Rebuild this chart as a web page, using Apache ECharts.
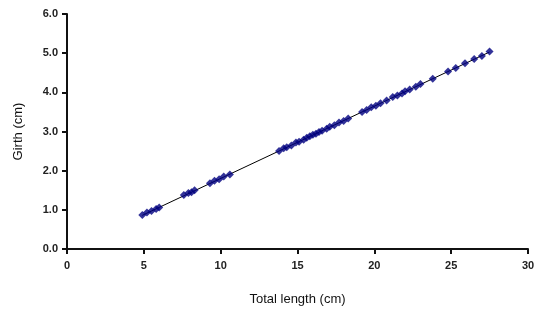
<!DOCTYPE html>
<html><head><meta charset="utf-8">
<script src="https://cdn.jsdelivr.net/npm/echarts@6/dist/echarts.min.js"></script>
<style>html,body{margin:0;padding:0;background:#fff}#c{width:539px;height:314px}</style>
</head><body><div id="c"></div>
<script>
const totalLength = [4.9,5.2,5.5,5.8,6.0,7.6,7.9,8.1,8.3,9.3,9.6,9.9,10.2,10.6,13.8,14.1,14.3,14.6,14.9,15.1,15.4,15.6,15.8,16.0,16.2,16.4,16.6,16.9,17.1,17.4,17.7,18.0,18.3,19.2,19.5,19.8,20.1,20.4,20.8,21.2,21.5,21.8,22.0,22.3,22.7,23.0,23.8,24.8,25.3,25.9,26.5,27.0,27.5];
const girth = [0.87,0.93,0.97,1.02,1.06,1.38,1.43,1.45,1.50,1.68,1.74,1.78,1.85,1.90,2.50,2.57,2.60,2.64,2.72,2.74,2.79,2.84,2.88,2.92,2.94,2.99,3.02,3.07,3.12,3.16,3.23,3.27,3.33,3.50,3.55,3.62,3.66,3.72,3.79,3.88,3.92,3.97,4.03,4.07,4.14,4.21,4.35,4.53,4.62,4.74,4.85,4.93,5.04];
const trendX = [4.9, 27.5];
const trendY = [0.86, 5.03];
const xTicks = [0,5,10,15,20,25,30];
const yTicks = [0,1,2,3,4,5,6];

const pts = totalLength.map((v,i)=>[v,girth[i]]);
const trend = trendX.map((v,i)=>[v,trendY[i]]);
const chart = echarts.init(document.getElementById('c'), null, {renderer:'canvas'});
const lblFont = {fontFamily:'Liberation Sans, Arial', fontSize:11, fontWeight:'bold', color:'#222'};
const nameFont = {fontFamily:'Liberation Sans, Arial',fontSize:13,color:'#111'};
chart.setOption({
  animation:false,
  backgroundColor:'#fff',
  grid:{left:67,right:11,top:14,bottom:65,containLabel:false},
  xAxis:{type:'value',min:0,max:30,interval:5,
    name:'Total length (cm)',nameLocation:'middle',nameGap:44,
    nameTextStyle:nameFont,
    axisLine:{lineStyle:{color:'#111',width:2}},
    axisTick:{show:true,length:5,lineStyle:{color:'#111',width:2}},
    axisLabel:Object.assign({margin:11,formatter:v=>String(v)},lblFont),
    splitLine:{show:false}},
  yAxis:{type:'value',min:0,max:6,interval:1,
    name:'Girth (cm)',nameLocation:'middle',nameGap:42,
    nameTextStyle:nameFont,
    axisLine:{show:true,lineStyle:{color:'#111',width:2}},
    axisTick:{show:true,length:5,lineStyle:{color:'#111',width:2}},
    axisLabel:Object.assign({margin:9,formatter:v=>v.toFixed(1)},lblFont),
    splitLine:{show:false}},
  series:[
    {type:'line',data:trend,symbol:'none',lineStyle:{color:'#000',width:1},z:1},
    {type:'scatter',data:pts,symbol:'diamond',symbolSize:8,itemStyle:{color:'#000080'},z:2}
  ]
});
</script></body></html>
